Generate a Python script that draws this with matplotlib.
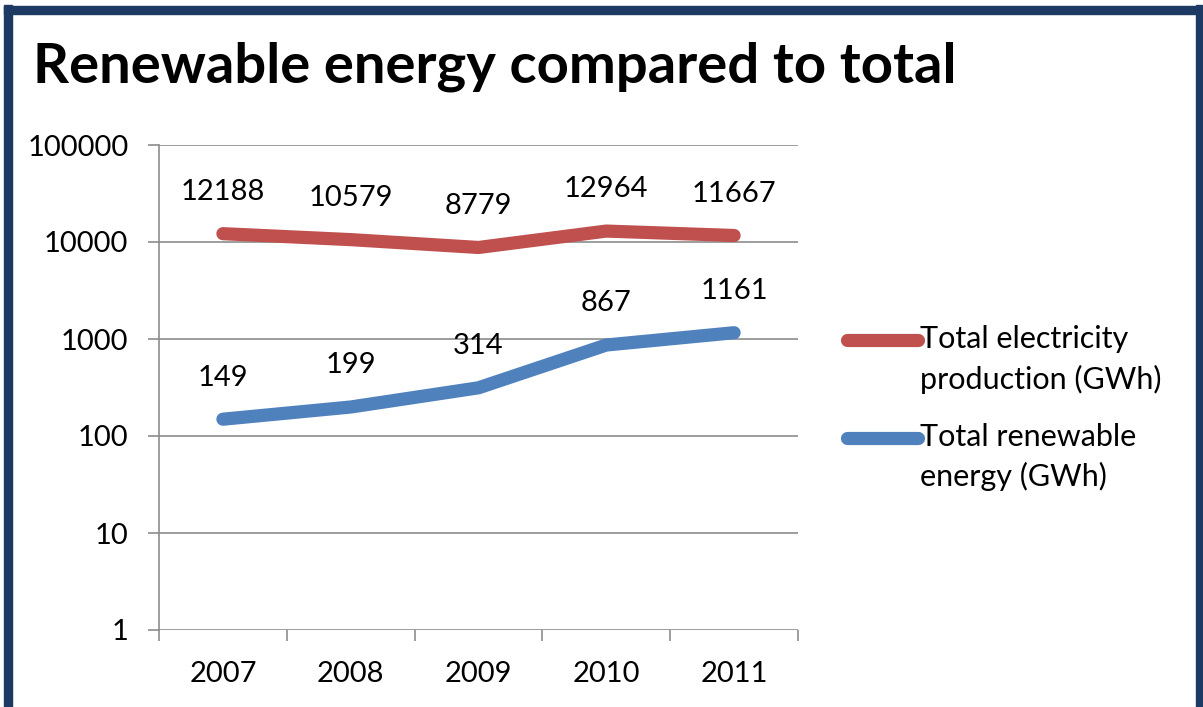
import numpy as np
import matplotlib
matplotlib.use('Agg')
from matplotlib import pyplot as plt
from matplotlib.patches import Rectangle
from matplotlib.ticker import FixedLocator, FuncFormatter

#%% Data

years = ['2007', '2008', '2009', '2010', '2011']
total_electricity = [12188, 10579, 8779, 12964, 11667]
total_renewable = [149, 199, 314, 867, 1161]
label_electricity = 'Total electricity\nproduction (GWh)'
label_renewable = 'Total renewable\nenergy (GWh)'
y_ticks = [1, 10, 100, 1000, 10000, 100000]

red = '#C0504D'
blue = '#4F81BD'
grid_grey = '#8C8C8C'

#%% Plot

plt.rc('font', family=['Lato', 'DejaVu Sans'], size=21)
fig = plt.figure(figsize=[12.03, 7.07], dpi=100)
ax = fig.add_axes([159/1203, 1-630/707, (798-159)/1203, (630-145)/707])

x = np.arange(len(years))
ax.plot(x, total_electricity, color=red, lw=9.5, solid_capstyle='round',
        solid_joinstyle='round', label=label_electricity, zorder=3)
ax.plot(x, total_renewable, color=blue, lw=9.5, solid_capstyle='round',
        solid_joinstyle='round', label=label_renewable, zorder=3)

for xi, v in zip(x, total_electricity):
    ax.annotate(str(v), (xi, v), xytext=(0, 30), textcoords='offset points',
                ha='center', va='center', fontsize=21, color='black')
for xi, v in zip(x, total_renewable):
    ax.annotate(str(v), (xi, v), xytext=(0, 30), textcoords='offset points',
                ha='center', va='center', fontsize=21, color='black')

ax.set_yscale('log')
ax.set_ylim(1, 100000)
ax.set_xlim(-0.5, len(years) - 0.5)
ax.yaxis.set_major_locator(FixedLocator(y_ticks))
ax.yaxis.set_major_formatter(FuncFormatter(lambda v, p: '%d' % v))
ax.yaxis.set_minor_locator(FixedLocator([]))
ax.set_xticks(x)
ax.set_xticklabels(years)
ax.set_xticks(np.arange(-0.5, len(years)), minor=True)

ax.grid(axis='y', color=grid_grey, lw=1.2)
ax.set_axisbelow(True)
for s in ['top', 'right', 'bottom']:
    ax.spines[s].set_visible(False)
ax.spines['left'].set_color(grid_grey)
ax.spines['left'].set_linewidth(1.2)
ax.tick_params(axis='y', which='major', length=8, width=1.2, color=grid_grey, pad=14, labelsize=21)
ax.tick_params(axis='x', which='major', length=0, pad=22, labelsize=21)
ax.tick_params(axis='x', which='minor', length=8, width=1.2, color=grid_grey)

leg = ax.legend(loc='upper left', bbox_to_anchor=(847/1203, 1-325/707),
                bbox_transform=fig.transFigure, frameon=False, fontsize=22,
                handlelength=2.33, handletextpad=0.05, labelspacing=0.95,
                borderpad=0, borderaxespad=0)
for t in leg.get_texts():
    t.set_linespacing(1.48)
# Excel puts the key next to the first line of a wrapped label
for ln in leg.get_lines():
    ln.set_ydata(np.asarray(ln.get_ydata()) + 14.4)

fig.text(33/1203, 1-82/707, 'Renewable energy compared to total',
         fontsize=40.5, fontweight='bold', va='baseline', ha='left')

# navy frame around the slide
border = '#1C3A63'
fig.patches.append(Rectangle((0.003, 0), 0.007, 1-5/707, transform=fig.transFigure,
                             color=border, zorder=10))
fig.patches.append(Rectangle((0.003, 1-14/707), 0.992, 8/707, transform=fig.transFigure,
                             color=border, zorder=10))
fig.patches.append(Rectangle((1-7/1203, 0), 6/1203, 1-5/707, transform=fig.transFigure,
                             color=border, zorder=10))

plt.savefig('out.png', dpi=100)
